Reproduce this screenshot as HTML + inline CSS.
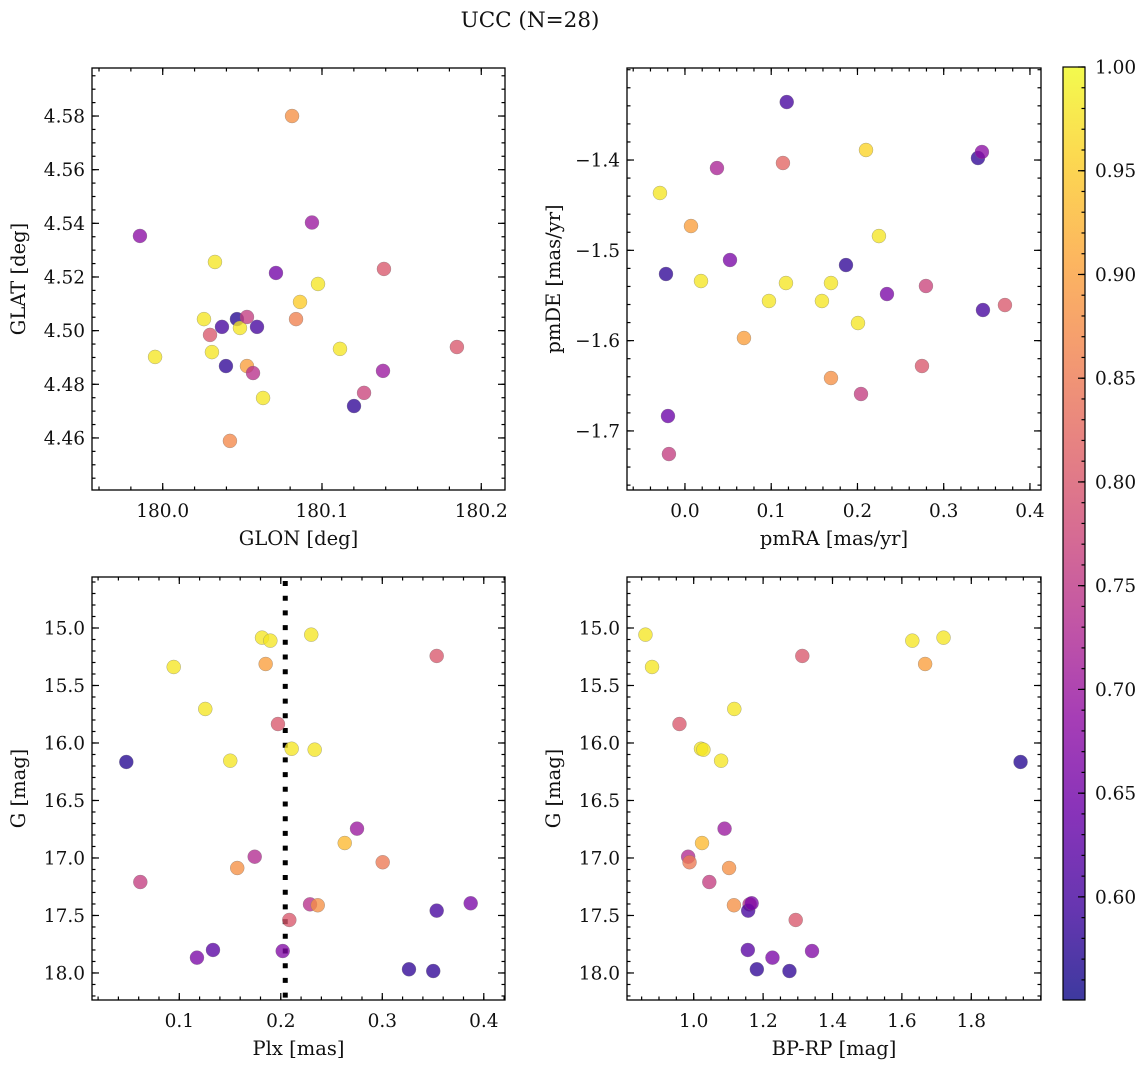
<!DOCTYPE html>
<html><head><meta charset="utf-8">
<style>
html,body{margin:0;padding:0;background:#fff;}
svg text{font-family:"DejaVu Serif","Liberation Serif",serif;fill:#111;}
</style></head>
<body>
<svg id="fig" xmlns="http://www.w3.org/2000/svg" width="1148" height="1067" viewBox="0 0 1148 1067">
<defs>
<linearGradient id="plasmaGrad" x1="0" y1="1" x2="0" y2="0"></linearGradient>
</defs>
<text x="530" y="27" font-size="21.5" text-anchor="middle">UCC (N=28)</text>
</svg>
<script>
// Panel 1: GLON / GLAT
const glon = [179.9857,179.9952,180.0328,180.0259,180.0297,180.0309,180.0372,180.0397,180.0422,180.0466,180.0485,180.0529,180.0529,180.0567,180.0592,180.063,180.0711,180.0812,180.0837,180.0862,180.0937,180.0975,180.1113,180.1201,180.1264,180.1383,180.1389,180.1847];
const glat = [4.5353,4.4902,4.5256,4.5043,4.4984,4.492,4.5014,4.4868,4.4589,4.5043,4.501,4.5051,4.4868,4.4842,4.5014,4.4749,4.5215,4.58,4.5043,4.5107,4.5403,4.5174,4.4932,4.4719,4.4768,4.485,4.523,4.4939];
const probA = [0.68,0.98,0.98,0.98,0.80,0.98,0.60,0.58,0.87,0.57,0.98,0.76,0.90,0.74,0.60,0.98,0.65,0.88,0.86,0.95,0.70,0.98,0.98,0.58,0.77,0.70,0.80,0.80];
// Panel 2: pmRA / pmDE
const pmra = [0.118,0.2099,0.3397,0.3443,0.1136,0.0371,-0.029,0.007,0.2249,0.0522,-0.022,0.1867,0.0186,0.1171,0.1693,0.2342,0.2794,0.0974,0.1588,0.3455,0.371,0.2006,0.0684,0.2748,0.1693,0.2041,-0.0197,-0.0186];
const pmde = [-1.3358,-1.3889,-1.3978,-1.3911,-1.4033,-1.4089,-1.4365,-1.4731,-1.4842,-1.5107,-1.5262,-1.5163,-1.534,-1.5362,-1.5362,-1.5484,-1.5395,-1.5561,-1.5561,-1.5661,-1.5606,-1.5805,-1.5971,-1.6281,-1.6414,-1.6591,-1.6835,-1.7256];
const probB = [0.60,0.96,0.58,0.68,0.82,0.72,0.98,0.90,0.98,0.66,0.58,0.58,0.98,0.98,0.98,0.66,0.77,0.98,0.98,0.60,0.80,0.98,0.90,0.80,0.88,0.76,0.64,0.76];
// Panels 3 & 4: Plx, BP-RP vs G
const gmag = [16.165,17.209,15.339,15.704,16.154,17.867,17.800,17.087,16.989,15.084,15.110,15.313,15.835,17.809,17.539,16.050,15.058,16.058,17.403,17.411,16.870,16.745,17.037,17.968,17.983,17.458,15.243,17.394];
const plx = [0.0478,0.0616,0.0945,0.1256,0.1502,0.1174,0.1332,0.1571,0.1743,0.1815,0.1897,0.1851,0.1972,0.2019,0.2084,0.2107,0.2300,0.2334,0.2288,0.2364,0.2630,0.2751,0.3004,0.3263,0.3502,0.3536,0.3536,0.3871];
const bprp = [1.942,1.045,0.880,1.117,1.079,1.227,1.156,1.102,0.984,1.720,1.630,1.667,0.959,1.341,1.294,1.021,0.861,1.028,1.161,1.116,1.024,1.089,0.988,1.182,1.276,1.157,1.313,1.167];
const probC = [0.57,0.76,0.98,0.98,0.98,0.66,0.62,0.88,0.73,0.98,0.98,0.90,0.80,0.67,0.80,0.98,0.98,0.98,0.74,0.88,0.93,0.70,0.85,0.58,0.58,0.60,0.80,0.66];
const plxMedian = 0.2044;
const cbMin = 0.5503, cbMax = 1.0;
const cbTicks = [0.60,0.65,0.70,0.75,0.80,0.85,0.90,0.95,1.00];

const NS = "http://www.w3.org/2000/svg";
const svg = document.getElementById('fig');
const plasma = [[0,13,8,135],[0.1,65,4,157],[0.2,106,0,168],[0.3,143,13,164],[0.4,177,42,144],[0.5,204,71,120],[0.6,225,100,98],[0.7,242,132,75],[0.8,252,166,54],[0.9,252,206,37],[1,240,249,33]];
function cmap(t){
  t=Math.max(0,Math.min(1,t));
  for(let i=1;i<plasma.length;i++){
    if(t<=plasma[i][0]){
      const a=plasma[i-1],b=plasma[i],f=(t-a[0])/(b[0]-a[0]);
      return 'rgb('+[1,2,3].map(k=>Math.round(a[k]+(b[k]-a[k])*f)).join(',')+')';
    }
  }
  return 'rgb(240,249,33)';
}
function colorOf(p){return cmap((p-cbMin)/(cbMax-cbMin));}
function mk(tag,attrs,parent){
  const e=document.createElementNS(NS,tag);
  for(const k in attrs)e.setAttribute(k,attrs[k]);
  (parent||svg).appendChild(e);return e;
}
const fmt=(v,d)=>v.toFixed(d).replace('-','\u2212');

function panel(cfg){
  const g=mk('g',{});
  
  
  const {x0,x1,y0,y1}=cfg;
  const sx=v=>x0+(v-cfg.xmin)/(cfg.xmax-cfg.xmin)*(x1-x0);
  const sy=cfg.invert? (v=>y0+(v-cfg.ymin)/(cfg.ymax-cfg.ymin)*(y1-y0)) : (v=>y1-(v-cfg.ymin)/(cfg.ymax-cfg.ymin)*(y1-y0));
  const tg=mk('g',{stroke:'#000','stroke-width':1.2},g);
  const eps=1e-9;
  function ticksFor(min,max,step){const a=[];let s=Math.ceil((min-eps)/step);for(let v=s*step;v<=max+eps;v+=step)a.push(+v.toFixed(6));return a;}
  ticksFor(cfg.xmin,cfg.xmax,cfg.xminor).forEach(v=>{const x=sx(v);mk('line',{x1:x,x2:x,y1:y1,y2:y1-3.5},tg);mk('line',{x1:x,x2:x,y1:y0,y2:y0+3.5},tg);});
  ticksFor(cfg.ymin,cfg.ymax,cfg.yminor).forEach(v=>{const y=sy(v);mk('line',{x1:x0,x2:x0+3.5,y1:y,y2:y},tg);mk('line',{x1:x1,x2:x1-3.5,y1:y,y2:y},tg);});
  cfg.xticks.forEach(v=>{const x=sx(v);mk('line',{x1:x,x2:x,y1:y1,y2:y1-7},tg);mk('line',{x1:x,x2:x,y1:y0,y2:y0+7},tg);
    const t=mk('text',{x:x,y:y1+27,'font-size':18.5,'text-anchor':'middle'},g);t.textContent=fmt(v,cfg.xd);
    });
  cfg.yticks.forEach(v=>{const y=sy(v);mk('line',{x1:x0,x2:x0+7,y1:y,y2:y},tg);mk('line',{x1:x1,x2:x1-7,y1:y,y2:y},tg);
    const t=mk('text',{x:x0-7,y:y+6.5,'font-size':18.5,'text-anchor':'end'},g);t.textContent=fmt(v,cfg.yd);
    });
  if(cfg.vline!==undefined){
    const vx=sx(cfg.vline);
    const l=mk('line',{x1:vx,x2:vx,y1:y0+4,y2:y1,stroke:'#000','stroke-width':5,'stroke-dasharray':'5,9.7'},g);
    
  }
  for(let i=0;i<cfg.xs.length;i++){
    const c=mk('circle',{cx:sx(cfg.xs[i]),cy:sy(cfg.ys[i]),r:7,fill:colorOf(cfg.ps[i]),'fill-opacity':0.78,stroke:'#777','stroke-opacity':0.6,'stroke-width':0.5},g);
    
    
  }
  mk('rect',{x:x0,y:y0,width:x1-x0,height:y1-y0,fill:'none',stroke:'#000','stroke-width':1.3},g);
  const xl=mk('text',{x:(x0+x1)/2,y:y1+55,'font-size':19.5,'text-anchor':'middle'},g);xl.textContent=cfg.xlabel;
  
  const cy=(y0+y1)/2;
  const yl=mk('text',{x:0,y:0,'font-size':19.5,'text-anchor':'middle',transform:'translate('+(x0-67)+','+cy+') rotate(-90)'},g);yl.textContent=cfg.ylabel;
  
}

panel({name:'glon-glat-panel',x0:92,x1:505,y0:68,y1:490,xmin:179.9556,xmax:180.2149,ymin:4.4406,ymax:4.5979,
  xticks:[180.0,180.1,180.2],xminor:0.02,xd:1,yticks:[4.46,4.48,4.50,4.52,4.54,4.56,4.58],yminor:0.005,yd:2,
  xs:glon,ys:glat,ps:probA,xlabel:'GLON [deg]',ylabel:'GLAT [deg]'});
panel({name:'pm-panel',x0:627,x1:1041,y0:68,y1:490,xmin:-0.0672,xmax:0.4128,ymin:-1.7654,ymax:-1.2981,
  xticks:[0.0,0.1,0.2,0.3,0.4],xminor:0.02,xd:1,yticks:[-1.7,-1.6,-1.5,-1.4],yminor:0.02,yd:1,
  xs:pmra,ys:pmde,ps:probB,xlabel:'pmRA [mas/yr]',ylabel:'pmDE [mas/yr]'});
panel({name:'plx-g-panel',x0:92,x1:505,y0:577,y1:1000,xmin:0.014,xmax:0.4209,ymin:14.5565,ymax:18.235,invert:true,
  xticks:[0.1,0.2,0.3,0.4],xminor:0.02,xd:1,yticks:[15.0,15.5,16.0,16.5,17.0,17.5,18.0],yminor:0.1,yd:1,
  xs:plx,ys:gmag,ps:probC,vline:plxMedian,xlabel:'Plx [mas]',ylabel:'G [mag]'});
panel({name:'cmd-panel',x0:627,x1:1041,y0:577,y1:1000,xmin:0.8078,xmax:2.0009,ymin:14.5565,ymax:18.235,invert:true,
  xticks:[1.0,1.2,1.4,1.6,1.8],xminor:0.05,xd:1,yticks:[15.0,15.5,16.0,16.5,17.0,17.5,18.0],yminor:0.1,yd:1,
  xs:bprp,ys:gmag,ps:probC,xlabel:'BP-RP [mag]',ylabel:'G [mag]'});

// colorbar
const grad=document.getElementById('plasmaGrad');
plasma.forEach(s=>{mk('stop',{offset:s[0],'stop-color':'rgb('+s[1]+','+s[2]+','+s[3]+')','stop-opacity':0.8},grad);});
const cbG=mk('g',{});


const cx0=1063,cx1=1085,cy0=67,cy1=1000;
mk('rect',{x:cx0,y:cy0,width:cx1-cx0,height:cy1-cy0,fill:'url(#plasmaGrad)'},cbG);
const cbY=v=>cy1-(v-cbMin)/(cbMax-cbMin)*(cy1-cy0);
for(let v=0.56;v<=1.0001;v+=0.01){const y=cbY(v);mk('line',{x1:cx1,x2:cx1-3.5,y1:y,y2:y,stroke:'#000','stroke-width':1.2},cbG);}
cbTicks.forEach(v=>{const y=cbY(v);mk('line',{x1:cx1,x2:cx1-7,y1:y,y2:y,stroke:'#000','stroke-width':1.2},cbG);
  const t=mk('text',{x:cx1+10,y:y+6.5,'font-size':18.5},cbG);t.textContent=v.toFixed(2);
  });
mk('rect',{x:cx0,y:cy0,width:cx1-cx0,height:cy1-cy0,fill:'none',stroke:'#000','stroke-width':1.2},cbG);
</script>
</body></html>
